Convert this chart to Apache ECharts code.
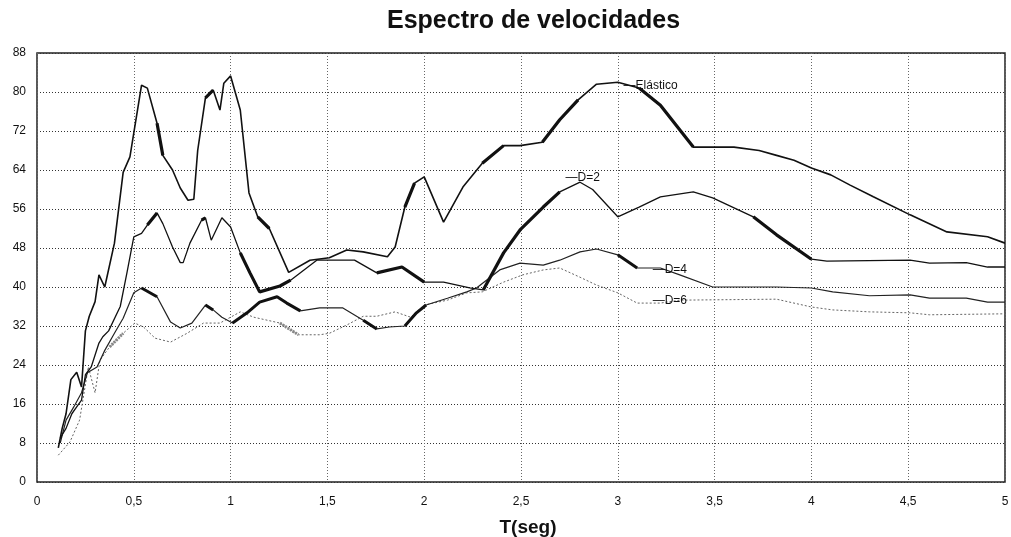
<!DOCTYPE html>
<html>
<head>
<meta charset="utf-8">
<script src="https://cdn.jsdelivr.net/npm/echarts@6/dist/echarts.min.js"></script>
<style>
html,body{margin:0;padding:0;background:#fff;}
#chart{width:1011px;height:537px;}
</style>
</head>
<body>
<div id="chart"></div>
<script>
// ---- Data ----
const tElastico = [0.11,0.13,0.15,0.175,0.205,0.23,0.25,0.27,0.30,0.32,0.35,0.40,0.445,0.48,0.54,0.57,0.62,0.65,0.70,0.74,0.78,0.81,0.83,0.87,0.91,0.945,0.965,1.0,1.05,1.095,1.14,1.20,1.30,1.41,1.51,1.60,1.685,1.81,1.85,1.90,1.95,2.0,2.10,2.20,2.30,2.41,2.495,2.61,2.70,2.795,2.89,3.0,3.11,3.22,3.39,3.60,3.73,3.82,3.91,4.0,4.10,4.20,4.32,4.51,4.70,4.91,5.0];
const vElastico = [7,11,14,21,22.5,19.5,31,34,37,42.5,40,49,63.5,66.7,81.4,80.8,73.6,67,64,60.3,57.8,58,68,78.8,80.4,76.3,81.8,83.3,76.3,59.3,54.4,52,43,45.5,46,47.6,47.2,46.2,48.2,56.4,61.3,62.6,53.3,60.5,65.4,69,69,69.7,74.3,78.4,81.6,82,80.8,77.3,68.7,68.7,68,67,66,64.4,63,60.9,58.5,54.8,51.3,50.3,49];

const tD2 = [0.12,0.135,0.15,0.18,0.205,0.23,0.25,0.28,0.32,0.34,0.37,0.43,0.465,0.50,0.54,0.57,0.62,0.65,0.70,0.74,0.755,0.79,0.85,0.87,0.90,0.955,1.0,1.05,1.10,1.15,1.255,1.31,1.445,1.51,1.64,1.755,1.885,2.0,2.10,2.235,2.305,2.41,2.495,2.615,2.70,2.805,2.87,3.0,3.11,3.22,3.39,3.49,3.70,3.82,4.0,4.08,4.51,4.61,4.80,4.91,5.0];
const vD2 = [9,10,11,14,15.4,16.8,22,23.6,28.5,29.8,31,36,43,50.3,51,52.7,55.2,53,48.2,45,45,49,53.7,54.2,49.6,54.2,52.3,47,42.9,39,40.2,41.4,45.5,45.5,45.5,42.9,44.1,41,41,39.8,39.4,47,51.7,56.4,59.5,61.5,60,54.4,56.4,58.5,59.5,58.3,54.4,50.7,45.7,45.3,45.5,44.9,45,44.1,44.1];

const tD4 = [0.12,0.15,0.19,0.23,0.26,0.31,0.35,0.40,0.445,0.50,0.54,0.62,0.69,0.74,0.80,0.87,0.91,0.955,1.01,1.085,1.15,1.24,1.29,1.36,1.46,1.58,1.685,1.755,1.82,1.90,1.96,2.01,2.12,2.22,2.27,2.39,2.495,2.615,2.70,2.805,2.89,3.0,3.10,3.22,3.32,3.49,3.82,4.0,4.11,4.30,4.51,4.61,4.80,4.91,5.0];
const vD4 = [8,12.7,15.4,18.3,22.4,23.6,27,30.5,33.6,38.8,39.8,38,32.8,31.6,32.6,36.3,35.3,33.8,32.6,34.7,36.9,38,36.7,35.1,35.7,35.7,33.2,31.4,31.8,32,34.7,36.3,37.7,39,39.8,43.5,44.9,44.5,45.5,47.2,47.8,46.6,43.9,43.9,42.5,40,40,39.8,39,38.2,38.4,37.7,37.7,36.9,36.9];

const tD6 = [0.11,0.17,0.22,0.265,0.30,0.325,0.375,0.445,0.505,0.55,0.61,0.69,0.775,0.86,0.945,1.05,1.12,1.255,1.35,1.46,1.51,1.60,1.685,1.755,1.85,1.93,2.0,2.12,2.22,2.30,2.41,2.51,2.615,2.70,2.805,2.89,3.0,3.10,3.22,3.32,3.82,4.0,4.11,4.30,4.51,4.61,5.0];
const vD6 = [5.5,8.2,12.7,23.6,18.3,25,27.7,30.5,32.6,31.8,29.5,28.7,30.5,32.6,32.6,34.9,33.8,32.6,30.2,30.2,30.5,32.2,34,34,34.9,33.8,36.3,37.3,38.8,39,41,42.5,43.5,43.9,42,40.4,38.8,36.7,36.7,37.3,37.5,35.9,35.3,34.9,34.7,34.3,34.5];

// Period spans drawn with a heavy stroke in the original
const thickElastico = [[0.62,0.65],[0.87,0.91],[1.14,1.20],[1.90,1.95],[2.30,2.41],[2.61,2.795],[3.11,3.39]];
const thickD2 = [[0.57,0.62],[0.85,0.87],[1.05,1.15],[1.255,1.31],[1.685,1.755],[1.885,2.0],[2.305,2.70],[3.70,4.0]];
const thickD4 = [[0.54,0.62],[0.87,0.91],[1.01,1.15],[1.24,1.36],[1.685,1.755],[1.90,2.01],[3.0,3.10]];
const thickD6 = [[0.375,0.445],[1.255,1.35]];

// Curve labels (name, anchor period, anchor value)
const labelNames = ['Elástico','D=2','D=4','D=6'];
const labelT = [3.03, 2.73, 3.18, 3.18];
const labelV = [81.2, 62.4, 43.6, 37.2];

const xTicks = {min:0, max:5, interval:0.5};
const yTicks = {min:0, max:88, interval:8};

// ---- Build ----
function pairs(ts, vs){ return ts.map((t,i)=>[t, vs[i]]); }
function thick(ts, vs, ranges){
  return ts.map((t,i)=> ranges.some(r=> t>=r[0]-1e-9 && t<=r[1]+1e-9) ? [t, vs[i]] : [t, '-']);
}
const FONT = '"Liberation Sans", Arial, sans-serif';

function lineSeries(name, data, color, width, type, z){
  return {name, type:'line', data, symbol:'none', smooth:false, silent:true, z:z||2,
    lineStyle:{color, width, type:type||'solid'}, connectNulls:false};
}
function labelSeries(idx){
  return {type:'line', data:[], silent:true,
    markPoint:{symbol:'circle', symbolSize:0, silent:true,
      data:[{coord:[labelT[idx], labelV[idx]],
        label:{show:true, position:'right', distance:0, formatter:'—'+labelNames[idx],
          color:'#111', fontSize:12, fontFamily:FONT}}]}};
}

const chart = echarts.init(document.getElementById('chart'), null, {renderer:'canvas'});
chart.setOption({
  backgroundColor:'#fff',
  animation:false,
  title:{text:'Espectro de velocidades', left:382, top:4,
    textStyle:{fontSize:25, fontWeight:'bold', color:'#111', fontFamily:FONT}},
  grid:{left:37, right:6, top:53, bottom:55, show:true, borderColor:'#222', borderWidth:1.5,
    backgroundColor:'transparent', containLabel:false, outerBoundsMode:'none'},
  xAxis:{type:'value', min:xTicks.min, max:xTicks.max, interval:xTicks.interval,
    name:'T(seg)', nameLocation:'middle', nameGap:36,
    nameTextStyle:{fontSize:19, fontWeight:'bold', color:'#111', fontFamily:FONT, padding:[0,0,0,14]},
    axisLine:{show:false}, axisTick:{show:false},
    axisLabel:{margin:14, fontSize:12, color:'#111', fontFamily:FONT,
      formatter:v=>String(v).replace('.',',')},
    splitLine:{show:true, lineStyle:{color:'#666', type:[1,2], width:1}}},
  yAxis:{type:'value', min:yTicks.min, max:yTicks.max, interval:yTicks.interval,
    axisLine:{show:false}, axisTick:{show:false},
    axisLabel:{margin:11, fontSize:12, color:'#111', fontFamily:FONT},
    splitLine:{show:true, lineStyle:{color:'#333', type:[1,2], width:1}}},
  series:[
    lineSeries('D=6', pairs(tD6,vD6), '#666', 1, [2,2], 2),
    lineSeries('D=6b', thick(tD6,vD6,thickD6), '#888', 3, [2,1], 2),
    lineSeries('D=4', pairs(tD4,vD4), '#222', 1.2, 'solid', 3),
    lineSeries('D=4b', thick(tD4,vD4,thickD4), '#111', 3, 'solid', 3),
    lineSeries('D=2', pairs(tD2,vD2), '#111', 1.3, 'solid', 4),
    lineSeries('D=2b', thick(tD2,vD2,thickD2), '#111', 3.2, 'solid', 4),
    lineSeries('Elástico', pairs(tElastico,vElastico), '#111', 1.6, 'solid', 5),
    lineSeries('Elásticob', thick(tElastico,vElastico,thickElastico), '#111', 3.2, 'solid', 5),
    labelSeries(0), labelSeries(1), labelSeries(2), labelSeries(3)
  ]
});
</script>
</body>
</html>
